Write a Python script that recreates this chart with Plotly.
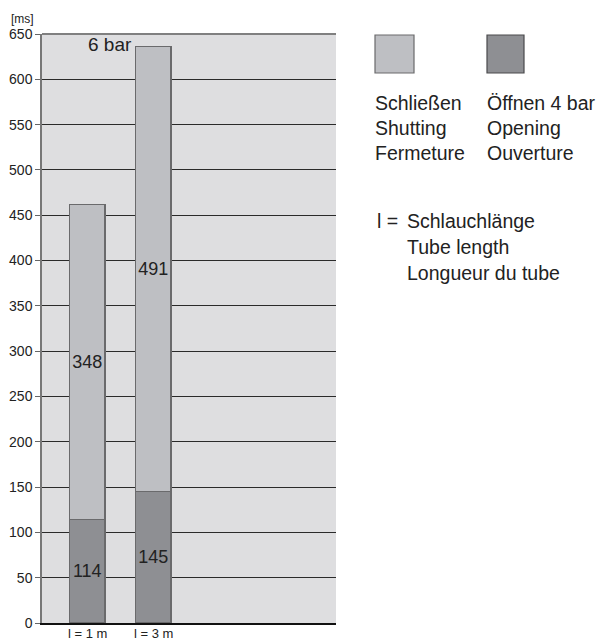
import plotly.graph_objects as go

# data
tube_lengths = ['l = 1 m', 'l = 3 m']
opening_ms = [114, 145]      # Öffnen 4 bar
shutting_ms = [348, 491]     # Schließen 6 bar
y_ticks = list(range(0, 651, 50))

# page body adds 8px offset, so the figure is drawn 8px smaller
OFF = 8
W, H = 609 - OFF, 641 - OFF
L, R, T, B = 42, 336, 34, 623   # plot area in screen pixels
FONT = 'Liberation Sans, Arial, sans-serif'


def px(x):
    return (x - L) / (R - L)


def py(y):
    return (B - y) / (B - T)


xpos = [0, 1]

fig = go.Figure()
fig.add_trace(go.Bar(x=xpos, y=opening_ms, name='Öffnen 4 bar',
                     marker=dict(color='#8e8f93', line=dict(color='#6a6a6c', width=1.5)),
                     text=opening_ms, textposition='inside', insidetextanchor='middle',
                     textangle=0, textfont=dict(size=18, color='#222222'),
                     width=0.54))
fig.add_trace(go.Bar(x=xpos, y=shutting_ms, name='Schließen 6 bar',
                     marker=dict(color='#bebfc3', line=dict(color='#6a6a6c', width=1.5)),
                     text=shutting_ms, textposition='inside', insidetextanchor='middle',
                     textangle=0, textfont=dict(size=18, color='#222222'),
                     width=0.54))

fig.update_layout(
    width=W, height=H,
    margin=dict(l=L - OFF, r=W - (R - OFF), t=T - OFF, b=H - (B - OFF), autoexpand=False),
    barmode='stack',
    showlegend=False,
    paper_bgcolor='white',
    plot_bgcolor='#dedee0',
    font=dict(family=FONT, color='#222222'),
    uniformtext=dict(minsize=18, mode='show'),
)

fig.update_xaxes(range=[-0.686, 3.77], tickvals=xpos, showticklabels=False,
                 showgrid=False, zeroline=False, ticks='', automargin=False,
                 showline=True, linecolor='#111111', linewidth=2)
fig.update_yaxes(range=[0, 650], tickvals=y_ticks, showgrid=True,
                 gridcolor='#2a2a2a', gridwidth=1, zeroline=False,
                 ticks='outside', ticklen=5, tickcolor='#666666',
                 showline=True, linecolor='#777777', linewidth=1.5,
                 tickfont=dict(size=14), automargin=False)

# category labels under the bars
for xv, lab in zip(xpos, tube_lengths):
    fig.add_annotation(text=lab, xref='x', yref='paper', x=xv, y=py(625),
                       xanchor='center', yanchor='top', showarrow=False,
                       font=dict(size=13), borderpad=0)

# top border (650 line)
fig.add_shape(type='line', xref='paper', yref='paper', x0=0, x1=1, y0=1, y1=1,
              line=dict(color='#808080', width=2))

# axis unit
fig.add_annotation(text='[ms]', xref='paper', yref='paper', x=px(9), y=py(19),
                   xanchor='left', yanchor='middle', showarrow=False, font=dict(size=12))

# "6 bar" note next to the taller bar
fig.add_annotation(text='6 bar', xref='paper', yref='paper', x=px(134), y=py(45),
                   xanchor='right', yanchor='middle', showarrow=False, font=dict(size=19))

# legend swatches
fig.add_shape(type='rect', xref='paper', yref='paper',
              x0=px(375), x1=px(414), y0=py(73), y1=py(35),
              fillcolor='#bebfc3', line=dict(color='#6a6a6c', width=1.2))
fig.add_shape(type='rect', xref='paper', yref='paper',
              x0=px(487), x1=px(524), y0=py(73), y1=py(35),
              fillcolor='#8e8f93', line=dict(color='#4a4a4c', width=1.2))

col1 = ['Schließen', 'Shutting', 'Fermeture']
col2 = ['Öffnen 4 bar', 'Opening', 'Ouverture']
rows_y = [103, 128, 153]
for t1, t2, yy in zip(col1, col2, rows_y):
    fig.add_annotation(text=t1, xref='paper', yref='paper', x=px(373), y=py(yy),
                       xanchor='left', yanchor='middle', showarrow=False, font=dict(size=19.5))
    fig.add_annotation(text=t2, xref='paper', yref='paper', x=px(485), y=py(yy),
                       xanchor='left', yanchor='middle', showarrow=False, font=dict(size=19.5))

fig.add_annotation(text='l =', xref='paper', yref='paper', x=px(375), y=py(221),
                   xanchor='left', yanchor='middle', showarrow=False, font=dict(size=19.5))
note = ['Schlauchlänge', 'Tube length', 'Longueur du tube']
for t, yy in zip(note, [221, 247, 273]):
    fig.add_annotation(text=t, xref='paper', yref='paper', x=px(405), y=py(yy),
                       xanchor='left', yanchor='middle', showarrow=False, font=dict(size=19.5))

fig.write_html('out.html')
